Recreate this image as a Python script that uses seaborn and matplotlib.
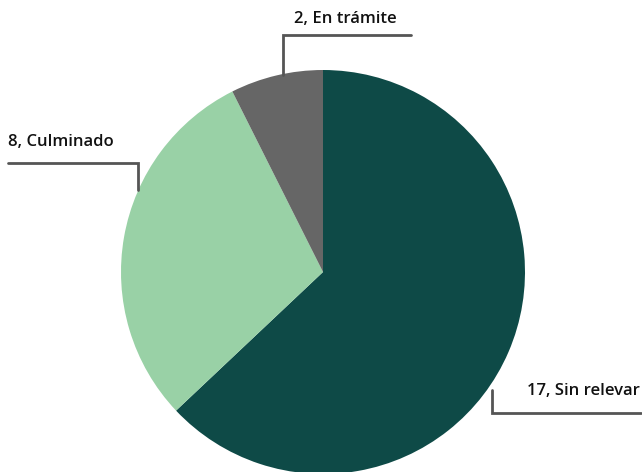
import matplotlib
matplotlib.use("Agg")
import matplotlib.pyplot as plt
import seaborn as sns

categories = ["Sin relevar", "Culminado", "En trámite"]
values = [17, 8, 2]
colors = ["#0e4a47", "#99d1a6", "#666666"]

sns.set_theme(style="white")
plt.rcParams['font.family'] = ['Open Sans', 'DejaVu Sans']

W, H = 642, 472
fig = plt.figure(figsize=(W / 100, H / 100), dpi=100)
ax = fig.add_axes([0, 0, 1, 1])

cx, cy, r = 323, H - 272, 202
ax.pie(values, colors=colors, startangle=90, counterclock=False,
       center=(cx, cy), radius=r, frame=True,
       wedgeprops=dict(linewidth=0))
ax.set_xlim(0, W)
ax.set_ylim(0, H)
ax.set_aspect('equal')
ax.axis('off')

line_kw = dict(color="#555555", lw=2, solid_joinstyle='miter', clip_on=False)
font_kw = dict(fontsize=12, color="#111111", fontweight='semibold')

# En trámite
ax.plot([283, 283, 411], [H - 75, H - 35, H - 35], **line_kw)
ax.text(345, H - 19, f"{values[2]}, {categories[2]}", ha='center', va='center', **font_kw)
# Culminado
ax.plot([8, 138, 138], [H - 163, H - 163, H - 190], **line_kw)
ax.text(8, H - 142, f"{values[1]}, {categories[1]}", ha='left', va='center', **font_kw)
# Sin relevar
ax.plot([492, 492, 641], [H - 390, H - 413, H - 413], **line_kw)
ax.text(640, H - 391, f"{values[0]}, {categories[0]}", ha='right', va='center', **font_kw)

fig.savefig("out.png", dpi=100)
